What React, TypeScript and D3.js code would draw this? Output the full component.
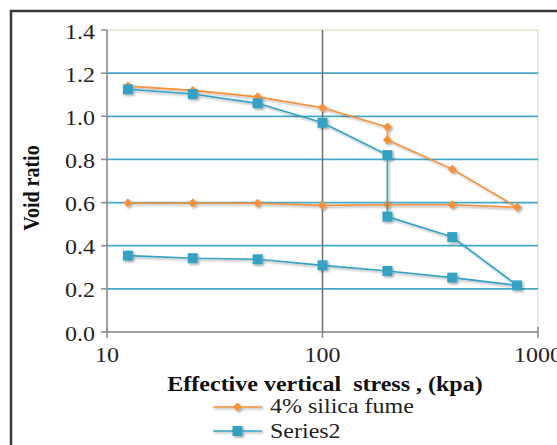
import React from "react";
import * as d3 from "d3";

const stress = [12.5, 25, 50, 100, 200, 200, 400, 800, 400, 200, 100, 50, 25, 12.5];
const silicaFume = [1.14, 1.12, 1.09, 1.04, 0.95, 0.89, 0.755, 0.578, 0.59, 0.59, 0.587, 0.597, 0.598, 0.598];
const series2Stress = [12.5, 25, 50, 100, 200, 200, 400, 800, 400, 200, 100, 50, 25, 12.5];
const series2 = [1.125, 1.103, 1.06, 0.97, 0.82, 0.535, 0.44, 0.216, 0.252, 0.283, 0.309, 0.337, 0.342, 0.354];
const yTicks = [0, 0.2, 0.4, 0.6, 0.8, 1.0, 1.2, 1.4];
const xTicks = [10, 100, 1000];
const seriesNames = ["4% silica fume", "Series2"];

const W = 557;
const H = 445;
const ORANGE = "#f5903a";
const TEAL = "#35a2c4";
const GRID = "#45a9c9";
const AXIS = "#8a8a8a";
const FONT = '"Liberation Serif", "Times New Roman", "DejaVu Serif", serif';

const x = d3.scaleLog().domain([10, 1000]).range([107, 538]);
const y = d3.scaleLinear().domain([0, 1.4]).range([332, 30]);

const line = d3
  .line<[number, number]>()
  .x((d) => x(d[0]))
  .y((d) => y(d[1]));

const diamond = (cx: number, cy: number, r: number) =>
  `M${cx},${cy - r}L${cx + r},${cy}L${cx},${cy + r}L${cx - r},${cy}Z`;

const txt = { fontFamily: FONT, whiteSpace: "pre" as const };

export default function App() {
  const orangePts = stress.map((s, i) => [s, silicaFume[i]] as [number, number]);
  const tealPts = series2Stress.map((s, i) => [s, series2[i]] as [number, number]);

  return (
    <svg
      width={W}
      height={H}
      style={{ position: "absolute", left: 0, top: 0, background: "#fff", fontFamily: FONT }}
    >
      <defs>
        <filter id="shadow" x="-10%" y="-10%" width="130%" height="130%">
          <feDropShadow dx="1.5" dy="1.5" stdDeviation="1" floodColor="#000" floodOpacity="0.35" />
        </filter>
      </defs>

      {/* frame */}
      <rect x={11} y={11} width={W + 20} height={H + 20} fill="#fff" stroke="#3a3a3a" strokeWidth={2.5} />

      {/* plot area border */}
      <rect x={107} y={30} width={431} height={302} fill="none" stroke="#e4e4d4" strokeWidth={1.5} />

      {/* horizontal gridlines */}
      {yTicks
        .filter((t) => t > 0 && t < 1.4)
        .map((t) => (
          <line key={t} x1={107} x2={538} y1={y(t)} y2={y(t)} stroke={GRID} strokeWidth={1.8} />
        ))}

      {/* vertical gridline at 100 */}
      <line x1={x(100)} x2={x(100)} y1={30} y2={332} stroke="#6f6f6f" strokeWidth={1.5} />

      {/* axes */}
      <line x1={107} x2={107} y1={30} y2={332} stroke={AXIS} strokeWidth={1.5} />
      <line x1={107} x2={538} y1={332} y2={332} stroke={AXIS} strokeWidth={1.5} />
      {yTicks.map((t) => (
        <line key={t} x1={101} x2={107} y1={y(t)} y2={y(t)} stroke={AXIS} strokeWidth={1.5} />
      ))}
      {xTicks.map((t) => (
        <line key={t} x1={x(t)} x2={x(t)} y1={327} y2={338} stroke={AXIS} strokeWidth={1.5} />
      ))}

      {/* series */}
      <g filter="url(#shadow)">
        <path d={line(orangePts) || ""} fill="none" stroke={ORANGE} strokeWidth={1.6} />
        {orangePts.map((p, i) => (
          <path key={i} d={diamond(x(p[0]), y(p[1]), 4.5)} fill={ORANGE} />
        ))}
        <path d={line(tealPts) || ""} fill="none" stroke={TEAL} strokeWidth={1.6} />
        {tealPts.map((p, i) => (
          <rect key={i} x={x(p[0]) - 5} y={y(p[1]) - 5} width={10} height={10} fill={TEAL} />
        ))}
      </g>

      {/* y tick labels */}
      {yTicks.map((t) => (
        <text
          key={t}
          transform={`translate(95,${y(t) + 1.5}) scale(1.2,1)`}
          textAnchor="end"
          dy="0.35em"
          fontSize={20}
          fill="#222"
          style={txt}
        >
          {t.toFixed(1)}
        </text>
      ))}

      {/* x tick labels */}
      {xTicks.map((t) => (
        <text
          key={t}
          transform={`translate(${x(t)},362) scale(1.2,1)`}
          textAnchor="middle"
          fontSize={20}
          fill="#222"
          style={txt}
        >
          {t}
        </text>
      ))}

      {/* axis titles */}
      <text
        transform="translate(325,391) scale(1.2,1)"
        textAnchor="middle"
        fontSize={20}
        fontWeight="bold"
        fill="#111"
        style={txt}
      >
        {"Effective vertical  stress , (kpa)"}
      </text>
      <text
        transform="translate(31,188) rotate(-90) scale(1,1.2)"
        textAnchor="middle"
        dy="0.35em"
        fontSize={20}
        fontWeight="bold"
        fill="#111"
        style={txt}
      >
        Void ratio
      </text>

      {/* legend */}
      <g filter="url(#shadow)">
        <line x1={213} x2={262} y1={407} y2={407} stroke={ORANGE} strokeWidth={1.6} />
        <path d={diamond(237.5, 407, 4.5)} fill={ORANGE} />
        <line x1={213} x2={262} y1={431} y2={431} stroke={TEAL} strokeWidth={1.6} />
        <rect x={232.5} y={426} width={10} height={10} fill={TEAL} />
      </g>
      <text transform="translate(270,413) scale(1.2,1)" fontSize={20} fill="#222" style={txt}>
        {seriesNames[0]}
      </text>
      <text transform="translate(270,438) scale(1.2,1)" fontSize={20} fill="#222" style={txt}>
        {seriesNames[1]}
      </text>
    </svg>
  );
}
